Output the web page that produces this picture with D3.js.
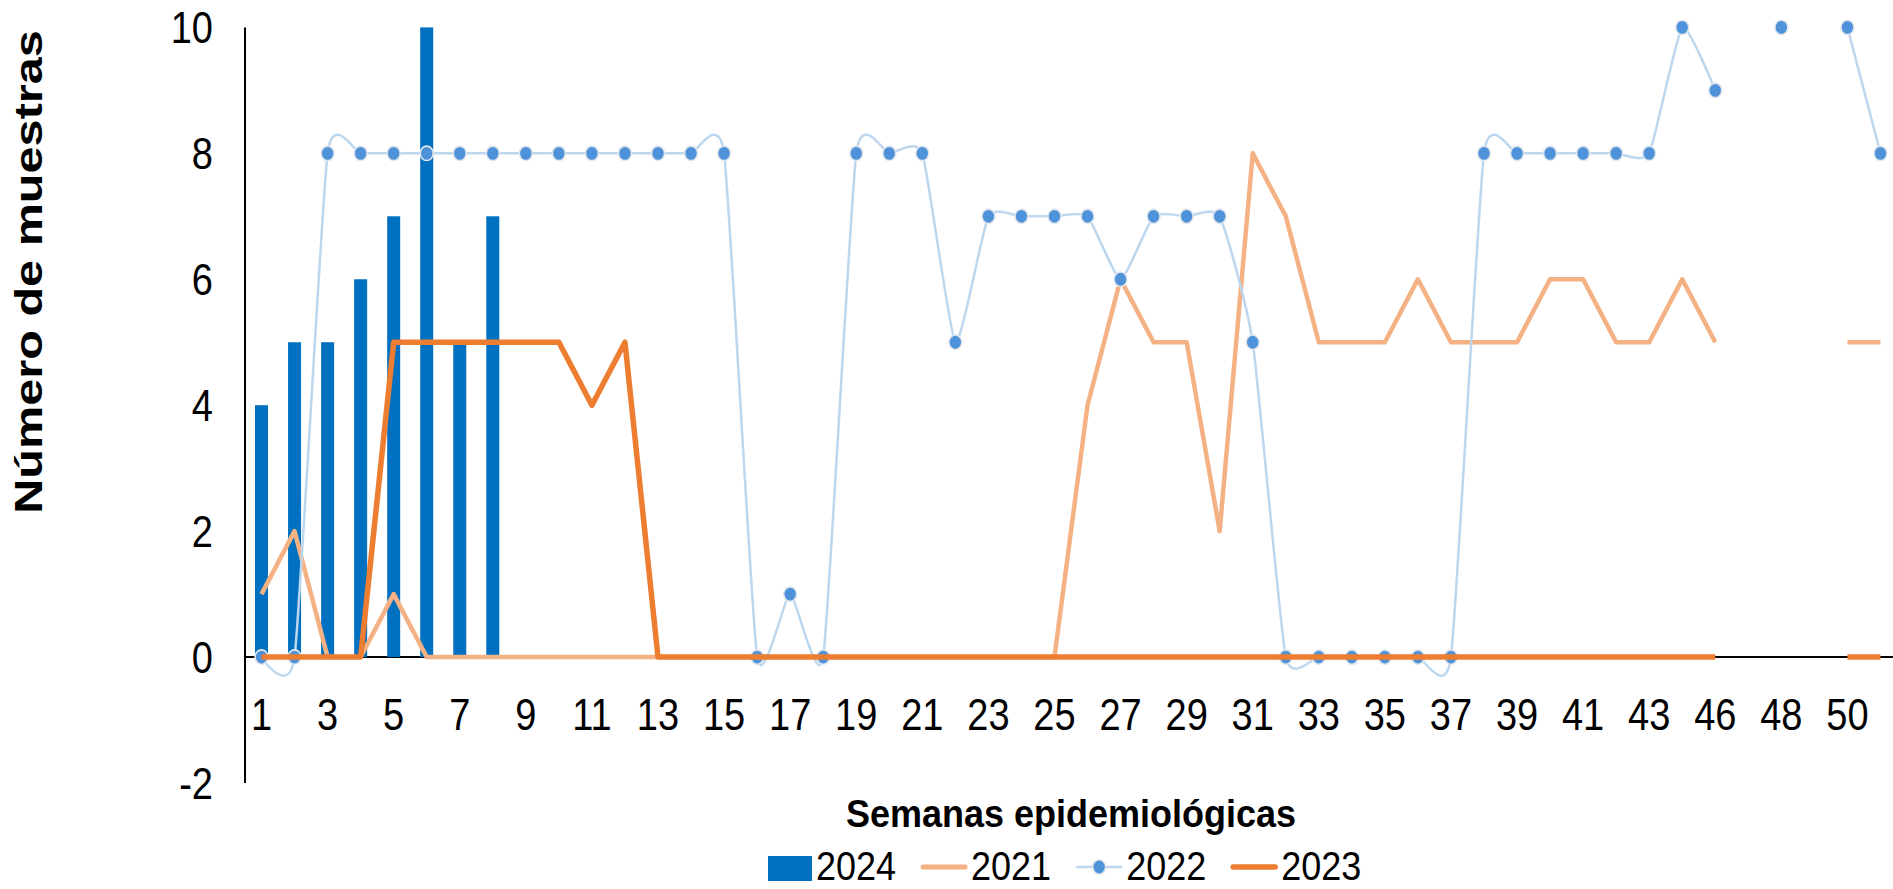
<!DOCTYPE html>
<html><head><meta charset="utf-8">
<script src="https://cdn.jsdelivr.net/npm/d3@7"></script>
<style>body{margin:0;background:#fff;overflow:hidden}svg{display:block}</style>
</head><body><svg id="c" width="1893" height="889"></svg>
<script>
// ---- data ----
const weeks = ["1","2","3","4","5","6","7","8","9","10","11","12","13","14","15","16","17","18","19","20",
  "21","22","23","24","25","26","27","28","29","30","31","32","33","34","35","36","37","38","39","40",
  "41","42","43","44","46","47","48","49","50","51"];
const s2024 = [4,5,5,6,7,10,5,7,null,null,null,null,null,null,null,null,null,null,null,null,
  null,null,null,null,null,null,null,null,null,null,null,null,null,null,null,null,null,null,null,null,
  null,null,null,null,null,null,null,null,null,null];
const s2021 = [1,2,0,0,1,0,0,0,0,0,0,0,0,0,0,0,0,0,0,0,
  0,0,0,0,0,4,6,5,5,2,8,7,5,5,5,6,5,5,5,6,
  6,5,5,6,5,null,null,null,5,5];
const s2022 = [0,0,8,8,8,8,8,8,8,8,8,8,8,8,8,0,1,0,8,8,
  8,5,7,7,7,7,6,7,7,7,5,0,0,0,0,0,0,8,8,8,
  8,8,8,10,9,null,10,null,10,8];
const s2023 = [0,0,0,0,5,5,5,5,5,5,4,5,0,0,0,0,0,0,0,0,
  0,0,0,0,0,0,0,0,0,0,0,0,0,0,0,0,0,0,0,0,
  0,0,0,0,0,null,null,null,0,0];
const yTicks = [-2,0,2,4,6,8,10];
const seriesNames = ["2024","2021","2022","2023"];
const yTitle = "Número de muestras";
const xTitle = "Semanas epidemiológicas";

// ---- layout ----
const svg = d3.select("#c");
const FONT = "'Liberation Sans', Arial, sans-serif";
const x = d3.scaleBand().domain(weeks).range([245, 245 + weeks.length * 33.04]).padding(0);
const y = d3.scaleLinear().domain([-2, 10]).range([783, 27.4]);
const cx = d => x(d) + x.bandwidth() / 2;

const C2024 = "#0070C0", C2021 = "#F4B183", C2022L = "#BDD7EE", C2022M = "#4E93DA", C2023 = "#ED7D31";

function stretchedText(g, tx, ty, str, size, sy, anchor, weight) {
  const gg = g.append("g").attr("transform", `translate(${tx},${ty}) scale(1,${sy})`);
  return gg.append("text").attr("x", 0).attr("y", 0).attr("text-anchor", anchor)
    .attr("font-family", FONT).attr("font-size", size).attr("font-weight", weight || "normal")
    .attr("fill", "#000").text(str);
}

// axes lines
svg.append("line").attr("x1", 245).attr("x2", 245).attr("y1", y(10)).attr("y2", y(-2))
  .attr("stroke", "#000").attr("stroke-width", 2);
svg.append("line").attr("x1", 245).attr("x2", 1893).attr("y1", y(0)).attr("y2", y(0))
  .attr("stroke", "#000").attr("stroke-width", 2);

// y tick labels
const yt = svg.append("g");
yTicks.forEach(v => stretchedText(yt, 213, y(v) + 15.5, String(v), 38, 1.17, "end"));

// x tick labels
const xt = svg.append("g");
weeks.forEach((w, i) => { if (i % 2 === 0) stretchedText(xt, cx(w), 730, w, 38, 1.17, "middle"); });

// bars 2024
const bw = 13;
svg.append("g").selectAll("rect").data(weeks.map((w, i) => ({w, v: s2024[i]})).filter(d => d.v != null))
  .join("rect").attr("x", d => cx(d.w) - bw / 2).attr("width", bw)
  .attr("y", d => y(d.v)).attr("height", d => y(0) - y(d.v)).attr("fill", C2024);

// lines
const pts = arr => weeks.map((w, i) => ({w, v: arr[i]}));
const straight = d3.line().defined(d => d.v != null).x(d => cx(d.w)).y(d => y(d.v));
const smooth = d3.line().defined(d => d.v != null).x(d => cx(d.w)).y(d => y(d.v)).curve(d3.curveCardinal.tension(0.5));

svg.append("path").attr("d", straight(pts(s2021))).attr("fill", "none").attr("stroke", C2021)
  .attr("stroke-width", 4.5).attr("stroke-linejoin", "round");
svg.append("path").attr("d", smooth(pts(s2022))).attr("fill", "none").attr("stroke", C2022L)
  .attr("stroke-width", 2.5);
svg.append("g").selectAll("ellipse").data(pts(s2022).filter(d => d.v != null)).join("ellipse")
  .attr("cx", d => cx(d.w)).attr("cy", d => y(d.v)).attr("rx", 6.5).attr("ry", 7.2)
  .attr("fill", C2022M).attr("stroke", "#e2e6eb").attr("stroke-width", 1.6);
svg.append("path").attr("d", straight(pts(s2023))).attr("fill", "none").attr("stroke", C2023)
  .attr("stroke-width", 5.5).attr("stroke-linejoin", "round");

// titles
stretchedText(svg, 1071, 827, xTitle, 36, 1.08, "middle", "bold");
svg.append("g").attr("transform", "translate(42,272) rotate(-90) scale(1.28,1)")
  .append("text").attr("text-anchor", "middle").attr("font-family", FONT).attr("font-size", 38)
  .attr("font-weight", "bold").text(yTitle);

// legend
const lg = svg.append("g");
let lx = 768;
const ly = 867;
seriesNames.forEach((name, i) => {
  let sw = 46;
  if (name === "2024") {
    sw = 44;
    lg.append("rect").attr("x", lx).attr("y", ly - 11).attr("width", sw).attr("height", 25).attr("fill", C2024);
  } else if (name === "2021") {
    lg.append("line").attr("x1", lx + 2).attr("x2", lx + sw - 2).attr("y1", ly).attr("y2", ly)
      .attr("stroke", C2021).attr("stroke-width", 5).attr("stroke-linecap", "round");
  } else if (name === "2022") {
    lg.append("line").attr("x1", lx).attr("x2", lx + sw).attr("y1", ly).attr("y2", ly)
      .attr("stroke", C2022L).attr("stroke-width", 2.5);
    lg.append("ellipse").attr("cx", lx + sw / 2).attr("cy", ly).attr("rx", 6.5).attr("ry", 7.2)
      .attr("fill", C2022M).attr("stroke", "#e2e6eb").attr("stroke-width", 1.6);
  } else {
    lg.append("line").attr("x1", lx + 2).attr("x2", lx + sw - 2).attr("y1", ly).attr("y2", ly)
      .attr("stroke", C2023).attr("stroke-width", 5.5).attr("stroke-linecap", "round");
  }
  const t = stretchedText(lg, lx + sw + 4, 880, name, 36, 1.14, "start");
  lx = lx + sw + 4 + t.node().getComputedTextLength() + 25;
});
</script></body></html>
